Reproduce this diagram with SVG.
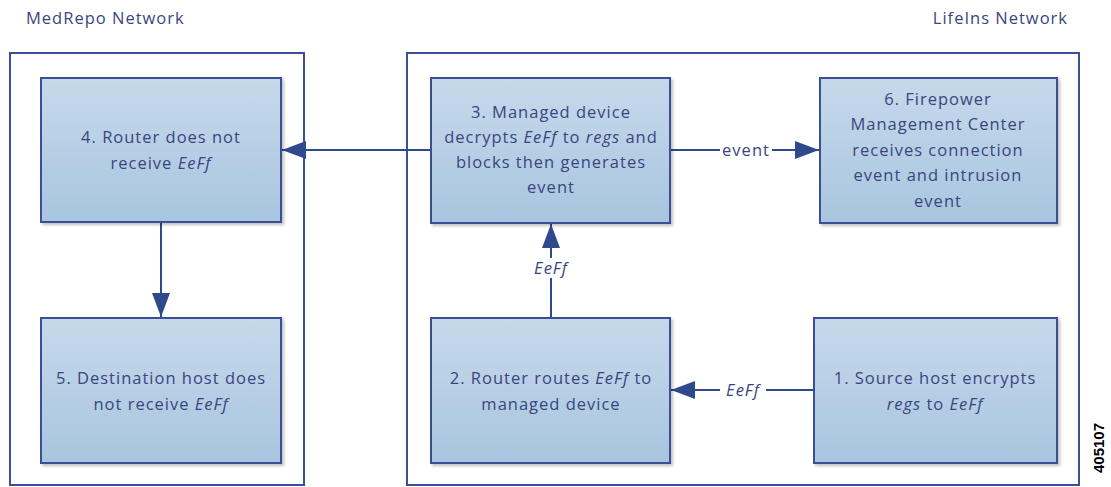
<svg xmlns="http://www.w3.org/2000/svg" width="1111" height="487" viewBox="0 0 1111 487">
<defs>
<linearGradient id="g" x1="0" y1="0" x2="0" y2="1">
<stop offset="0" stop-color="#c6d9eb"/>
<stop offset="1" stop-color="#a8c5df"/>
</linearGradient>
<filter id="sh" x="-5%" y="-5%" width="115%" height="115%">
<feDropShadow dx="2" dy="2" stdDeviation="1.5" flood-color="#000" flood-opacity="0.25"/>
</filter>
<marker id="ahb" viewBox="0 0 24 18" refX="24" refY="9" markerWidth="24" markerHeight="18" orient="auto" markerUnits="userSpaceOnUse">
<path d="M0,0 L24,9 L0,18 z" fill="#2f4a8c"/>
</marker>
</defs>
<style>
text{font-family:"Open Sans","Noto Sans",sans-serif;fill:#3a4580;font-size:16.5px;letter-spacing:1px}
.t{text-anchor:middle}
.i{font-style:italic}
.box{fill:url(#g);stroke:#3b4f96;stroke-width:2;filter:url(#sh)}
.cont{fill:#fff;stroke:#3b4f96;stroke-width:2}
.ln{stroke:#2f4a8c;stroke-width:2;fill:none}
.lbl{fill:#fff}
</style>
<rect width="1111" height="487" fill="#fff"/>
<g id="medrepo-network">
<rect class="cont" x="10" y="53" width="294" height="432"/>
<text x="26" y="24">MedRepo Network</text>
</g>
<g id="lifeins-network">
<rect class="cont" x="407" y="53" width="672" height="432"/>
<text x="1068" y="24" text-anchor="end">LifeIns Network</text>
</g>
<g id="connectors">
<line class="ln" x1="431" y1="150" x2="282" y2="150" marker-end="url(#ahb)"/>
<line class="ln" x1="670" y1="150" x2="819" y2="150" marker-end="url(#ahb)"/>
<rect class="lbl" x="720" y="140" width="52" height="20"/>
<text class="t" x="746" y="156">event</text>
<line class="ln" x1="551" y1="318" x2="551" y2="224" marker-end="url(#ahb)"/>
<rect class="lbl" x="529" y="258" width="44" height="20"/>
<text class="t i" x="551" y="274">EeFf</text>
<line class="ln" x1="814" y1="390" x2="671" y2="390" marker-end="url(#ahb)"/>
<rect class="lbl" x="720" y="380" width="46" height="20"/>
<text class="t i" x="743" y="396">EeFf</text>
<line class="ln" x1="161" y1="222" x2="161" y2="317" marker-end="url(#ahb)"/>
</g>
<g id="node4">
<rect class="box" x="41" y="78" width="240" height="144"/>
<text class="t" x="161" y="143">4. Router does not</text>
<text class="t" x="161" y="169">receive <tspan class="i">EeFf</tspan></text>
</g>
<g id="node5">
<rect class="box" x="41" y="318" width="240" height="145"/>
<text class="t" x="161" y="384">5. Destination host does</text>
<text class="t" x="161" y="410">not receive <tspan class="i">EeFf</tspan></text>
</g>
<g id="node3">
<rect class="box" x="431" y="78" width="239" height="145"/>
<text class="t" x="551" y="118">3. Managed device</text>
<text class="t" x="551" y="143">decrypts <tspan class="i">EeFf</tspan> to <tspan class="i">regs</tspan> and</text>
<text class="t" x="551" y="168">blocks then generates</text>
<text class="t" x="551" y="193">event</text>
</g>
<g id="node6">
<rect class="box" x="820" y="78" width="237" height="145"/>
<text class="t" x="938" y="105">6. Firepower</text>
<text class="t" x="938" y="130">Management Center</text>
<text class="t" x="938" y="156">receives connection</text>
<text class="t" x="938" y="181">event and intrusion</text>
<text class="t" x="938" y="207">event</text>
</g>
<g id="node2">
<rect class="box" x="431" y="318" width="239" height="145"/>
<text class="t" x="551" y="384">2. Router routes <tspan class="i">EeFf</tspan> to</text>
<text class="t" x="551" y="410">managed device</text>
</g>
<g id="node1">
<rect class="box" x="814" y="318" width="243" height="145"/>
<text class="t" x="935" y="384">1. Source host encrypts</text>
<text class="t" x="935" y="410"><tspan class="i">regs</tspan> to <tspan class="i">EeFf</tspan></text>
</g>
<text x="0" y="0" transform="translate(1104,473) rotate(-90)" style="font-family:'Liberation Sans',sans-serif;font-size:15px;font-weight:bold;fill:#000;letter-spacing:0">405107</text>
</svg>
